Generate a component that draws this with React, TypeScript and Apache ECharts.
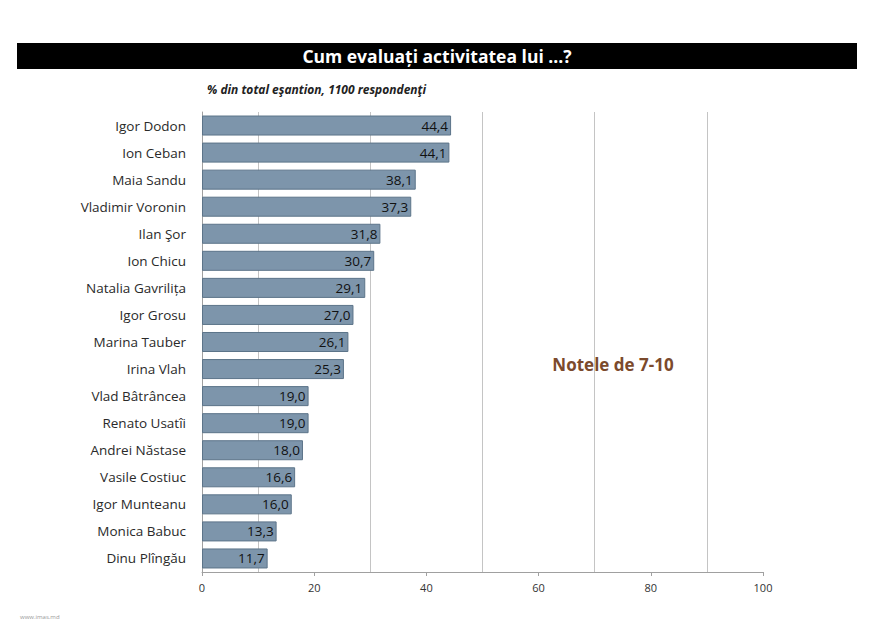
import React, { useEffect, useRef } from "react";
import * as echarts from "echarts";

const names = [
  "Igor Dodon",
  "Ion Ceban",
  "Maia Sandu",
  "Vladimir Voronin",
  "Ilan Şor",
  "Ion Chicu",
  "Natalia Gavrilița",
  "Igor Grosu",
  "Marina Tauber",
  "Irina Vlah",
  "Vlad Bâtrâncea",
  "Renato Usatîi",
  "Andrei Năstase",
  "Vasile Costiuc",
  "Igor Munteanu",
  "Monica Babuc",
  "Dinu Plîngău",
];
const values = [44.4, 44.1, 38.1, 37.3, 31.8, 30.7, 29.1, 27.0, 26.1, 25.3, 19.0, 19.0, 18.0, 16.6, 16.0, 13.3, 11.7];
const gridValues = [10, 30, 50, 70, 90];
const titleText = "Cum evaluați activitatea lui ...?";
const subtitleText = "% din total eşantion, 1100 respondenţi";
const noteText = "Notele de 7-10";
const sourceText = "www.imas.md";

export default function App() {
  const ref = useRef<HTMLDivElement>(null);
  useEffect(() => {
    if (!ref.current) return;
    const chart = echarts.init(ref.current, null, { renderer: "svg" });
    chart.setOption({
      animation: false,
      backgroundColor: "#ffffff",
      grid: { left: 202, right: 113, top: 112, bottom: 55, containLabel: false },
      xAxis: {
        type: "value",
        min: 0,
        max: 100,
        interval: 20,
        axisLine: { show: true, lineStyle: { color: "#a0a0a0", width: 1 } },
        axisTick: { show: true, length: 4, lineStyle: { color: "#a0a0a0" } },
        splitLine: { show: false },
        axisLabel: { color: "#333", fontSize: 11, fontFamily: "Open Sans", margin: 10 },
      },
      yAxis: {
        type: "category",
        inverse: true,
        data: names,
        axisLine: { show: true, lineStyle: { color: "#a0a0a0", width: 1 } },
        axisTick: { show: false },
        axisLabel: { color: "#2a2a2a", fontSize: 13.5, fontFamily: "Open Sans", margin: 16 },
      },
      series: [
        {
          type: "scatter",
          data: [],
          z: 0,
          silent: true,
          markLine: {
            z: 0,
            silent: true,
            symbol: "none",
            label: { show: false },
            lineStyle: { color: "#c4c4c4", type: "solid", width: 1 },
            data: gridValues.map((v) => ({ xAxis: v })),
          },
        },
        {
          type: "bar",
          data: values,
          z: 10,
          barCategoryGap: "26%",
          itemStyle: { color: "#7d95ab", borderColor: "#5c7489", borderWidth: 1 },
          label: {
            show: true,
            position: "insideRight",
            distance: 3,
            color: "#111",
            fontSize: 13.5,
            fontFamily: "Open Sans",
            formatter: (p: any) => p.value.toFixed(1).replace(".", ","),
          },
        },
      ],
      graphic: [
        { type: "rect", shape: { x: 17, y: 43, width: 840, height: 26 }, style: { fill: "#000" } },
        {
          type: "text",
          x: 437,
          y: 56,
          style: {
            text: titleText,
            fill: "#fff",
            font: "bold 17.5px 'Open Sans'",
            align: "center",
            verticalAlign: "middle",
          },
        },
        {
          type: "text",
          x: 207,
          y: 89,
          style: {
            text: subtitleText,
            fill: "#222",
            font: "italic bold 12px 'Open Sans'",
            align: "left",
            verticalAlign: "middle",
          },
        },
        {
          type: "text",
          x: 613,
          y: 364,
          style: {
            text: noteText,
            fill: "#7b4a2c",
            font: "bold 17px 'Open Sans'",
            align: "center",
            verticalAlign: "middle",
          },
        },
        {
          type: "text",
          x: 20,
          y: 617,
          style: {
            text: sourceText,
            fill: "#999",
            font: "6px 'Open Sans'",
            align: "left",
            verticalAlign: "middle",
          },
        },
      ],
    });
    return () => chart.dispose();
  }, []);
  return <div ref={ref} style={{ position: "fixed", left: 0, top: 0, width: 876, height: 627 }} />;
}
